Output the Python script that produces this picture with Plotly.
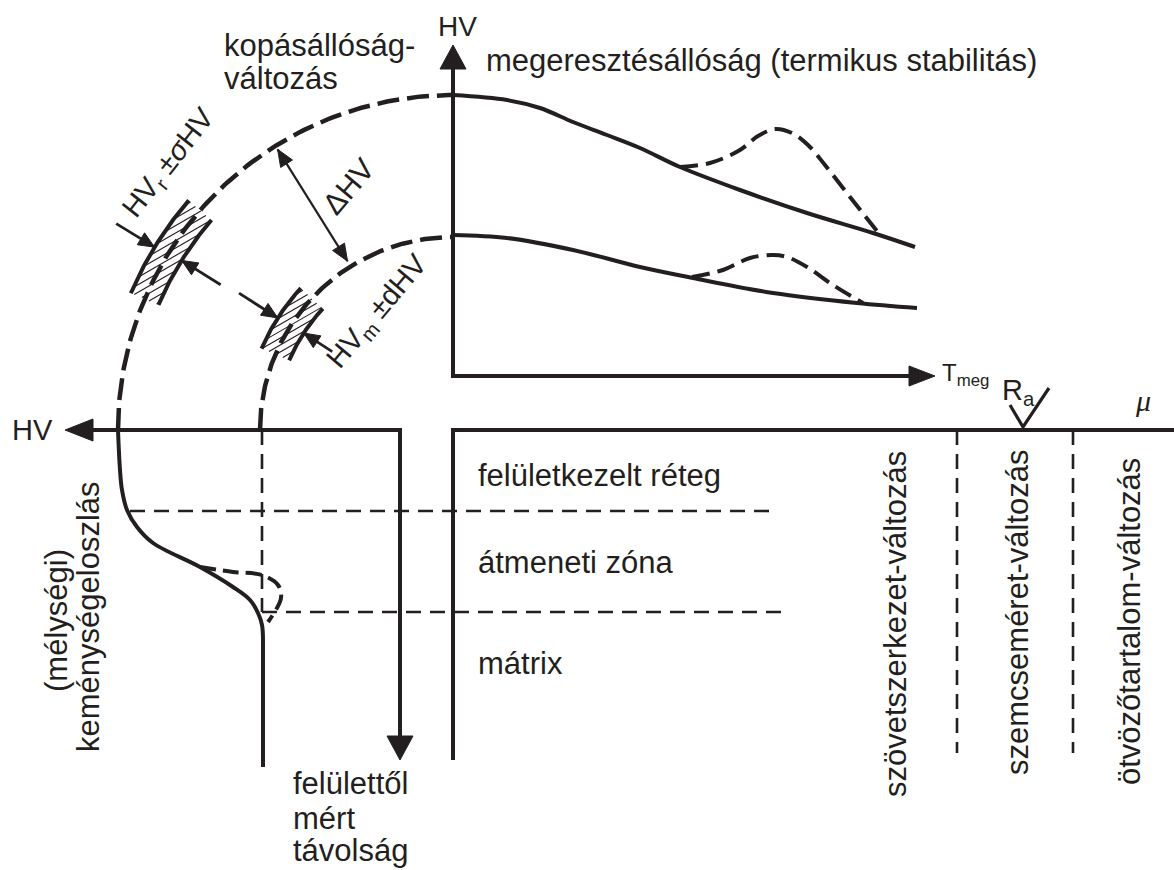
import numpy as np
import plotly.graph_objects as go

INK = "#231f20"
FONT = "Liberation Sans, Arial, sans-serif"
W, H = 1174, 870

# ---------------- data (schematic, pixel space, y grows downward) ----------------
# tempering resistance curves (top-right panel)
upper_x = [453, 507, 540, 573, 607, 640, 680, 740, 807, 873, 915]
upper_y = [95, 100, 108, 122, 135, 148, 167, 190, 213, 233, 247]
upper_bump_x = [680, 710, 740, 758, 775, 792, 808, 825, 850, 877]
upper_bump_y = [167, 163, 150, 136, 129, 133, 145, 165, 197, 231]
lower_x = [453, 507, 573, 640, 693, 773, 857, 917]
lower_y = [235, 238, 250, 267, 278, 293, 303, 308]
lower_bump_x = [692, 723, 750, 773, 787, 807, 833, 863]
lower_bump_y = [277, 270, 258, 255, 257, 267, 285, 303]

# hardness depth profile (left panel)
depth_x = [118, 120, 122, 127, 137, 153, 200, 233, 250, 258, 262, 263]
depth_y = [430, 470, 490, 510, 527, 543, 567, 587, 600, 613, 625, 640]
depth_tail_x = [263, 263]
depth_tail_y = [640, 767]
depth_bump_x = [200, 233, 262, 278, 281, 268]
depth_bump_y = [567, 572, 575, 585, 598, 622]

# wear-resistance arcs
arc_center = (453, 430)
arc_radius = [335, 193]                       # HV_r (outer), HV_m (inner)
bands = [(320, 350, 23, 41), (178, 208, 23, 43)]  # r_in, r_out, angle0, angle1
radial_arrows = [(395, 350, 31.5), (274, 320, 32), (254, 208, 32.6), (144, 178, 33)]
delta_arrow = (331, 199, 58)

# axes / guide lines
axis_paths = [([453, 453, 912], [62, 376, 376]),
              ([90, 400, 400], [430, 430, 740]),
              ([453, 453, 1174], [760, 430, 430])]
axis_heads = [((453, 45), (0, -1), 24, 13),
              ((935, 376), (1, 0), 26, 10),
              ((65, 430), (-1, 0), 28, 11),
              ((400, 760), (0, 1), 24, 13)]
dashed_h = [(511, 130, 778), (612, 262, 788)]
dashed_v = [(262, 430, 612), (957, 430, 753), (1073, 430, 753)]
check_x = [1010, 1023, 1049]
check_y = [405, 427, 388]

labels = [
    ("HV", 457, 26, 28, 0, "center"),
    ("kopásállóság-", 222, 45, 31, 0, "left"),
    ("változás", 222, 78, 31, 0, "left"),
    ("megeresztésállóság (termikus stabilitás)", 484, 60, 31, 0, "left"),
    ("T<sub>meg</sub>", 940, 374, 24, 0, "left"),
    ("HV", 32, 430, 29, 0, "center"),
    ("felületkezelt réteg", 476, 475, 31, 0, "left"),
    ("átmeneti zóna", 476, 562, 31, 0, "left"),
    ("mátrix", 476, 663, 31, 0, "left"),
    ("felülettől", 291, 783, 31, 0, "left"),
    ("mért", 291, 818, 31, 0, "left"),
    ("távolság", 291, 850, 31, 0, "left"),
    ("(mélységi)", 56, 621, 31, -90, "center"),
    ("keménységeloszlás", 88, 617, 31, -90, "center"),
    ("szövetszerkezet-változás", 895, 624, 31, -90, "center"),
    ("szemcseméret-változás", 1017, 612, 31, -90, "center"),
    ("ötvözőtartalom-változás", 1129, 622, 31, -90, "center"),
    ("HV<sub>r</sub> ±<i>σ</i>HV", 169, 164, 29, -52, "center"),
    ("ΔHV", 348, 186, 30, -50, "center"),
    ("HV<sub>m</sub> ±dHV", 378, 312, 29, -50, "center"),
    ("R<sub>a</sub>", 1000, 392, 29, 0, "left"),
]
mu_label = ("μ", 1143, 400, 30)

# ---------------- drawing helpers ----------------
fig = go.Figure()


def line(xs, ys, width, dash="solid", shape="linear"):
    fig.add_trace(go.Scatter(x=xs, y=ys, mode="lines",
                             line=dict(color=INK, width=width, dash=dash, shape=shape),
                             hoverinfo="skip", showlegend=False))


def head(tip, direction, length, half):
    ux, uy = direction
    n = np.hypot(ux, uy)
    ux, uy = ux / n, uy / n
    bx, by = tip[0] - ux * length, tip[1] - uy * length
    nx, ny = -uy, ux
    xs = [tip[0], bx + nx * half, bx - nx * half, tip[0]]
    ys = [tip[1], by + ny * half, by - ny * half, tip[1]]
    fig.add_trace(go.Scatter(x=xs, y=ys, mode="lines", fill="toself", fillcolor=INK,
                             line=dict(color=INK, width=1), hoverinfo="skip", showlegend=False))


def polar(r, a):
    a = np.radians(a)
    return arc_center[0] - r * np.cos(a), arc_center[1] - r * np.sin(a)


def arc(r, a0, a1, width, dash="solid"):
    angs = np.linspace(a0, a1, 120)
    xs, ys = polar(r, angs)
    line(list(xs), list(ys), width, dash)


# ---------------- axes ----------------
for xs, ys in axis_paths:
    line(xs, ys, 4)
for tip, d, L, hw in axis_heads:
    head(tip, d, L, hw)

for y, x0, x1 in dashed_h:
    line([x0, x1], [y, y], 2.6, "15px,9px")
for x, y0, y1 in dashed_v:
    line([x, x], [y0, y1], 2.6, "15px,9px")

# ---------------- curves ----------------
line(upper_x, upper_y, 4, shape="spline")
line(upper_bump_x, upper_bump_y, 4, "18px,8px", shape="spline")
line(lower_x, lower_y, 4, shape="spline")
line(lower_bump_x, lower_bump_y, 4, "18px,8px", shape="spline")
line(depth_x, depth_y, 4, shape="spline")
line(depth_tail_x, depth_tail_y, 4)
line(depth_bump_x, depth_bump_y, 4, "16px,7px", shape="spline")

for r in arc_radius:
    arc(r, 0, 90, 4.5, "22px,8px")

# hatched scatter bands
phi = np.radians(30)
u = np.array([np.cos(phi), -np.sin(phi)])
nrm = np.array([np.sin(phi), np.cos(phi)])
for (r_in, r_out, a0, a1), spacing in zip(bands, [6.5, 6.0]):
    arc(r_in, a0, a1, 4)
    arc(r_out, a0, a1, 4)
    mid = np.array(polar((r_in + r_out) / 2, (a0 + a1) / 2))
    t = np.arange(-150, 150, 0.5)
    hx, hy = [], []
    for d in np.arange(-150, 150, spacing):
        px = mid[0] + d * nrm[0] + t * u[0]
        py = mid[1] + d * nrm[1] + t * u[1]
        dx, dy = arc_center[0] - px, arc_center[1] - py
        rr = np.hypot(dx, dy)
        aa = np.degrees(np.arctan2(dy, dx))
        inside = (rr >= r_in) & (rr <= r_out) & (aa >= a0) & (aa <= a1)
        if inside.any():
            idx = np.where(inside)[0]
            hx += [px[idx[0]], px[idx[-1]], None]
            hy += [py[idx[0]], py[idx[-1]], None]
    line(hx, hy, 1.1)

# radial arrows
for r0, r1, a in radial_arrows:
    x0, y0 = polar(r0, a)
    x1, y1 = polar(r1, a)
    line([x0, x1], [y0, y1], 2.8)
    head((x1, y1), (x1 - x0, y1 - y0), 16, 7)

r0, r1, a = delta_arrow
x0, y0 = polar(r0, a)
x1, y1 = polar(r1, a)
line([x0, x1], [y0, y1], 2.2)
head((x1, y1), (x1 - x0, y1 - y0), 17, 7)
head((x0, y0), (x0 - x1, y0 - y1), 17, 7)

# Ra check mark
line(check_x, check_y, 3.2)

# ---------------- text ----------------
for text, x, y, size, ang, anchor in labels:
    fig.add_annotation(x=x, y=y, text=text, showarrow=False, textangle=ang,
                       xanchor=anchor, yanchor="middle",
                       font=dict(family=FONT, size=size, color=INK))
fig.add_annotation(x=mu_label[1], y=mu_label[2], text="<i>" + mu_label[0] + "</i>",
                   showarrow=False, xanchor="center", yanchor="middle",
                   font=dict(family="Liberation Serif, serif", size=mu_label[3], color=INK))

fig.update_layout(
    width=W, height=H, margin=dict(l=0, r=0, t=0, b=0),
    paper_bgcolor="white", plot_bgcolor="white",
    xaxis=dict(range=[0, W], visible=False, fixedrange=True),
    yaxis=dict(range=[H, 0], visible=False, fixedrange=True),
    hovermode=False, showlegend=False,
)

fig.write_html("out.html", config={"displayModeBar": False},
               post_script="document.body.style.margin='0';document.body.style.overflow='hidden';")
